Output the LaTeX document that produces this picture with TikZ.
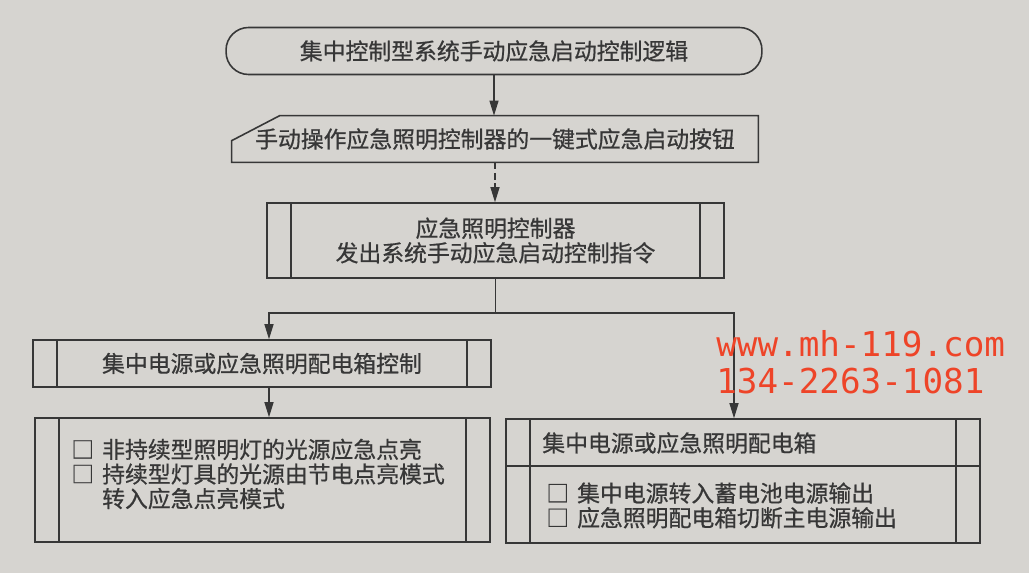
\documentclass[tikz,border=0pt]{standalone}
\usepackage{fontspec}
\setmainfont{Noto Sans CJK SC}[FakeBold=0.7]
\newfontfamily\wmfont{DejaVu Sans Mono}
\usepackage{xcolor}
\usepackage{tikz}
\usetikzlibrary{calc}
\usetikzlibrary{arrows.meta}
\definecolor{paper}{RGB}{214,212,208}
\definecolor{ink}{RGB}{55,55,55}
\definecolor{wmred}{RGB}{238,68,40}

\tikzset{
  terminal/.style={draw=ink, line width=0.9pt, rounded corners=0.45cm,
    minimum width=10.72cm, minimum height=0.94cm},
  procbox/.style={draw=ink, line width=0.9pt, path picture={
      \draw[ink, line width=0.9pt]
        ([xshift=0.48cm]path picture bounding box.north west) --
        ([xshift=0.48cm]path picture bounding box.south west);
      \draw[ink, line width=0.9pt]
        ([xshift=-0.48cm]path picture bounding box.north east) --
        ([xshift=-0.48cm]path picture bounding box.south east);}},
  flow/.style={ink, line width=0.7pt, -{Triangle[length=3mm,width=1.8mm]}},
}

\begin{document}
\begin{tikzpicture}[x=0.02cm, y=-0.02cm,
    every node/.style={font=\fontsize{13pt}{14pt}\selectfont, text=ink}]
			% Paper
			\fill[paper] (0,0) rectangle (1029,573);
			\useasboundingbox (0,0) rectangle (1029,573);

			% Boxes of the flow
			\node[terminal] (logic) at (494,51) {集中控制型系统手动应急启动控制逻辑};
			\node[minimum width=10.52cm, minimum height=0.92cm] (button) at (495,139)
				{手动操作应急照明控制器的一键式应急启动按钮};
			\draw[ink, line width=0.9pt] (button.south west) -- ($(button.north west)+(0,25)$)
				-- ($(button.north west)+(48,0)$) -- (button.north east) -- (button.south east) -- cycle;
			\node[procbox, minimum width=9.14cm, minimum height=1.5cm, align=center] (controller)
				at (495.5,240.5) {应急照明控制器\\发出系统手动应急启动控制指令};
			\node[procbox, minimum width=9.16cm, minimum height=0.94cm] (boxctrl) at (262,363.5)
				{集中电源或应急照明配电箱控制};
			\node[procbox, minimum width=9.1cm, minimum height=2.48cm] (lampbox) at (262.5,480) {};
			\node[anchor=west, inner sep=0, align=left] (lamptext) at (71,474)
				{□\hspace{0.35em}非持续型照明灯的光源应急点亮\\
				 □\hspace{0.35em}持续型灯具的光源由节电点亮模式\\
				 \phantom{□}\hspace{0.35em}转入应急点亮模式};
			\node[procbox, minimum width=9.48cm, minimum height=2.48cm] (powerbox) at (743,481) {};
			\coordinate (divide) at (0,466);
			\draw[ink, line width=0.9pt] (powerbox.west |- divide) -- (powerbox.east |- divide);
			\node[anchor=west, inner sep=0] (powertitle) at (542,443) {集中电源或应急照明配电箱};
			\node[anchor=west, inner sep=0, align=left] (poweritems) at (546,505.5)
				{□\hspace{0.35em}集中电源转入蓄电池电源输出\\
				 □\hspace{0.35em}应急照明配电箱切断主电源输出};

			% Connectors
			\draw[flow] (logic.south) -- (logic.south |- button.north);
			\draw[flow, dash pattern=on 4pt off 2pt] (button.south) -- (button.south |- controller.north);
			\coordinate (fork) at (495.5,313);
			\coordinate (forkl) at (269,313);
			\coordinate (forkr) at (734,313);
			\draw[ink, line width=0.7pt] (controller.south) -- (fork);
			\draw[flow] (fork) -- (forkl) -- (forkl |- boxctrl.north);
			\draw[flow] (fork) -- (forkr) -- (forkr |- powerbox.north);
			\draw[flow] (forkl |- boxctrl.south) -- (forkl |- lampbox.north);

			% Watermark
			\node[anchor=west, inner sep=0, text=wmred, font=\wmfont\fontsize{19.5pt}{20pt}\selectfont]
				(wmsite) at (716,344) {www.mh-119.com};
			\node[anchor=west, inner sep=0, text=wmred, font=\wmfont\fontsize{19.5pt}{20pt}\selectfont]
				(wmphone) at (716,381) {134-2263-1081};
		\end{tikzpicture}
\end{document}
